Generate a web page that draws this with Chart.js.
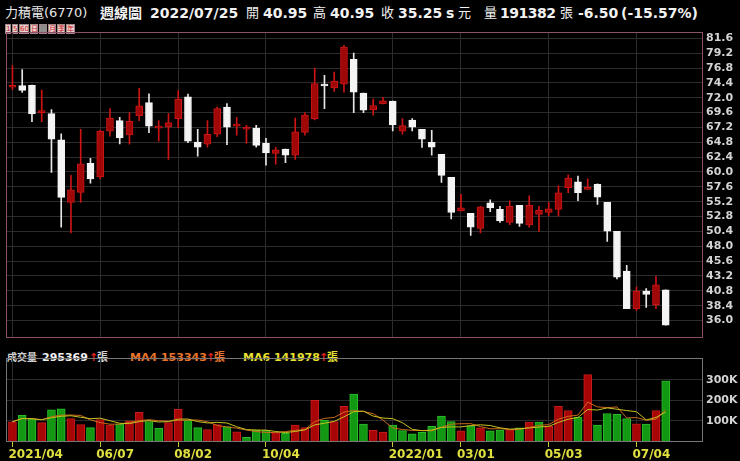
<!DOCTYPE html>
<html>
<head>
<meta charset="utf-8">
<script src="https://cdn.jsdelivr.net/npm/chart.js@4.4.0/dist/chart.umd.min.js"></script>
<style>
  body { margin: 0; background: #000; width: 740px; height: 461px; overflow: hidden; position: relative;
         font-family: "DejaVu Sans", "Noto Sans CJK TC", sans-serif; }
  .t { position: absolute; white-space: pre; line-height: 16px; }
  .h { top: 5px; font-size: 14px; font-weight: bold; color: #f2f2f2; }
  .n { font-weight: normal; }
  .c { font-size: 13px; }
  .v { top: 350px; font-size: 11px; font-weight: bold; }
  .vc { font-size: 10px; }
  #btns { position: absolute; left: 5px; top: 24px; display: flex; gap: 1px; }
  #btns span { display: block; height: 8px; font-size: 7px; line-height: 8px; text-align: center; overflow: hidden;
               background: #e4d4d4; color: #d01818; border: 1px solid #a08888; }
  #btns span.on { background: #9a9a9a; color: #808080; }
  canvas { position: absolute; left: 0; }
</style>
</head>
<body>
<div class="t n" style="left:5px;top:5px;font-size:13px;color:#e8e8e8">力積電(6770)</div>
<div class="t h" style="left:100px">週線圖</div>
<div class="t h" style="left:150px">2022/07/25</div>
<div class="t h n c" style="left:246px">開</div>
<div class="t h" style="left:263px">40.95</div>
<div class="t h n c" style="left:313px">高</div>
<div class="t h" style="left:330px">40.95</div>
<div class="t h n c" style="left:381px">收</div>
<div class="t h" style="left:398px">35.25</div>
<div class="t h" style="left:446px">s</div>
<div class="t h n c" style="left:458px">元</div>
<div class="t h n c" style="left:484px">量</div>
<div class="t h" style="left:500px;letter-spacing:-0.5px">191382</div>
<div class="t h n c" style="left:560px">張</div>
<div class="t h" style="left:578px">-6.50</div>
<div class="t h" style="left:621px">(-15.57%)</div>
<div id="btns">
  <span style="width:4px">1</span><span style="width:4px">5</span><span style="width:8px">60</span><span style="width:6px">日</span><span class="on" style="width:6px">週</span><span style="width:6px">月</span><span style="width:6px">季</span><span style="width:7px">年</span>
</div>

<div class="t v n vc" style="left:7px;color:#d0d0d0">成交量</div>
<div class="t v" style="left:42px;color:#f0f0f0">295369</div>
<div class="t v" style="left:89px;color:#e02020">↑</div>
<div class="t v n" style="left:97px;color:#d0d0d0">張</div>
<div class="t v" style="left:130px;color:#e8742a">MA4 153343</div>
<div class="t v" style="left:206px;color:#e02020">↑</div>
<div class="t v n" style="left:214px;color:#e8742a">張</div>
<div class="t v" style="left:243px;color:#e8e030">MA6 141978</div>
<div class="t v" style="left:319px;color:#e02020">↑</div>
<div class="t v n" style="left:327px;color:#e8e030">張</div>

<canvas id="price" width="740" height="348" style="top:0"></canvas>
<canvas id="vol" width="740" height="113" style="top:348px"></canvas>

<script>
// weekly bars, 2021/04/05 .. 2022/07/25
const opens  = [73.7, 73.95, 74.0, 69.6, 69.45, 65.2, 55.1, 56.7, 61.4, 59.2, 66.6, 68.3, 66.0, 69.1, 71.2, 67.1, 67.3, 68.6, 72.15, 64.85,
                64.5, 66.1, 70.5, 67.4, 66.9, 67.1, 64.65, 63.0, 63.7, 62.7, 66.4, 68.6, 74.2, 73.6, 74.2, 78.2, 72.75, 70.05, 71.0, 71.45,
                66.6, 68.4, 66.9, 64.8, 62.85, 59.15, 53.7, 53.3, 50.9, 55.0, 53.95, 51.85, 54.6, 51.45, 53.15, 53.45, 53.95, 57.45, 58.4, 57.2,
                58.0, 55.1, 50.4, 44.0, 37.9, 40.75, 38.55, 40.95];
const highs  = [77.2, 76.55, 74.05, 73.25, 70.1, 66.15, 59.45, 66.9, 62.2, 66.75, 70.25, 68.85, 69.6, 73.5, 72.65, 68.3, 69.45, 73.15, 72.6, 66.9,
                68.3, 70.5, 71.05, 68.85, 67.55, 67.55, 65.45, 64.0, 63.7, 68.7, 69.6, 76.8, 75.6, 76.15, 80.45, 79.2, 72.75, 71.8, 72.05, 71.45,
                68.65, 68.65, 66.9, 66.75, 62.85, 59.15, 56.4, 53.3, 54.4, 55.5, 54.45, 55.35, 54.6, 56.15, 54.45, 55.1, 57.75, 59.55, 59.35, 58.9,
                58.1, 55.1, 50.4, 44.9, 41.4, 41.15, 43.15, 40.95];
const lows   = [73.3, 72.85, 68.15, 68.15, 59.95, 51.1, 50.15, 55.1, 58.2, 58.9, 65.8, 64.55, 64.5, 68.3, 66.35, 65.0, 62.05, 67.15, 64.75, 62.55,
                64.0, 65.7, 64.4, 65.95, 64.65, 64.0, 61.1, 61.25, 61.5, 62.05, 65.95, 68.4, 70.25, 73.0, 72.9, 69.6, 69.6, 69.2, 71.0, 66.65,
                66.1, 66.65, 63.95, 62.7, 58.3, 52.4, 53.7, 49.75, 50.15, 53.6, 51.85, 51.5, 51.2, 51.1, 50.4, 52.9, 52.9, 56.65, 55.35, 57.2,
                54.75, 48.8, 42.7, 37.9, 37.65, 38.1, 37.9, 35.25];
const closes = [74.0, 73.2, 69.4, 69.9, 65.3, 55.9, 57.1, 61.3, 58.9, 66.6, 68.7, 65.5, 68.2, 70.7, 67.4, 67.25, 68.0, 71.8, 65.0, 64.0,
                66.1, 70.25, 67.25, 67.7, 67.0, 64.3, 63.1, 63.6, 62.7, 66.5, 69.2, 74.3, 73.9, 74.7, 80.2, 72.9, 70.0, 70.75, 71.5, 67.6,
                67.5, 67.25, 65.3, 64.0, 59.45, 53.45, 54.2, 51.1, 54.35, 54.2, 52.1, 54.45, 51.7, 54.6, 53.8, 54.05, 56.65, 59.0, 56.65, 57.45,
                55.95, 50.45, 43.0, 37.9, 40.75, 40.2, 41.75, 35.25];
const volumes = [94600, 126000, 108000, 90000, 153000, 158000, 110000, 81000, 66000, 105000, 78000, 83000, 99000, 141000, 96000, 63000, 90000, 156000, 101000, 66000,
                 56000, 81000, 71000, 45000, 18000, 53000, 53000, 41000, 38000, 78000, 66000, 200000, 101000, 96000, 171000, 230000, 83000, 53000, 44000, 78000,
                 51000, 35000, 42000, 72000, 122000, 95000, 50000, 74000, 65000, 50000, 54000, 56000, 65000, 93000, 93000, 72000, 170000, 150000, 117000, 326000,
                 78000, 135000, 131000, 110000, 85000, 83000, 150000, 295369];

const tickIndex  = [0, 9, 17, 26, 39, 46, 55, 64];
const tickLabels = ['2021/04', '06/07', '08/02', '10/04', '2022/01', '03/01', '05/03', '07/04'];
const priceTicks = [36.0, 38.4, 40.8, 43.2, 45.6, 48.0, 50.4, 52.8, 55.2, 57.6, 60.0, 62.4, 64.8, 67.2, 69.6, 72.0, 74.4, 76.8, 79.2, 81.6];
const volTicks   = [100000, 200000, 300000];

const X_MIN = -0.56, X_MAX = 70.72;
const GRID = '#2c2c2c';
const RED = '#a00808', RED_EDGE = '#cc1414';
const WHITE = '#f4f4f4';

Chart.defaults.font.family = '"DejaVu Sans", sans-serif';
Chart.defaults.animation = false;

const isUp = i => closes[i] >= opens[i];
const volUp = i => i === 0 ? isUp(0) : closes[i] >= closes[i - 1];

const movingAvg = n => volumes.map((v, i) => {
    const part = volumes.slice(Math.max(0, i - n + 1), i + 1);
    return { x: i, y: part.reduce((a, b) => a + b, 0) / part.length };
});

const frame = color => ({
    id: 'frame',
    afterDraw(chart) {
        const a = chart.chartArea, c = chart.ctx;
        c.save();
        c.strokeStyle = color;
        c.lineWidth = 1;
        c.strokeRect(Math.round(a.left) - 0.5, Math.round(a.top) - 0.5, Math.round(a.right - a.left) + 1, Math.round(a.bottom - a.top) + 1);
        c.restore();
    }
});

const xAxis = showLabels => ({
    type: 'linear', min: X_MIN, max: X_MAX, offset: false,
    afterBuildTicks: s => { s.ticks = tickIndex.map(v => ({ value: v })); },
    afterFit: s => { s.height = showLabels ? 20 : 0; },
    grid: { offset: false, color: GRID, drawTicks: showLabels, tickLength: 6, tickColor: '#c8c830' },
    border: { display: false },
    ticks: {
        display: showLabels, autoSkip: false, maxRotation: 0, align: 'start', labelOffset: -4, padding: 1,
        color: '#e0e040', font: { size: 12, weight: 'bold' },
        callback: (v, i) => tickLabels[i]
    }
});

const idx = opens.map((_, i) => i);

new Chart(document.getElementById('price'), {
    type: 'bar',
    data: {
        datasets: [
            {
                label: 'body',
                order: 1,
                data: idx.map(i => ({ x: i, y: [opens[i], closes[i]] })),
                barThickness: 7,
                minBarLength: 2,
                grouped: false,
                borderSkipped: false,
                borderWidth: 1,
                backgroundColor: c => isUp(c.dataIndex) ? RED : WHITE,
                borderColor: c => isUp(c.dataIndex) ? RED_EDGE : WHITE
            },
            {
                label: 'wick',
                order: 2,
                data: idx.map(i => ({ x: i, y: [lows[i], highs[i]] })),
                barThickness: 1,
                grouped: false,
                borderWidth: 0,
                backgroundColor: c => isUp(c.dataIndex) ? RED_EDGE : '#e6e6e6'
            }
        ]
    },
    options: {
        responsive: false,
        layout: { padding: { top: 33, left: 7, right: 0, bottom: 1 } },
        plugins: { legend: { display: false }, tooltip: { enabled: false } },
        scales: {
            x: xAxis(false),
            y: {
                position: 'right', min: 33.27, max: 82.46,
                afterBuildTicks: s => { s.ticks = priceTicks.map(v => ({ value: v })); },
                afterFit: s => { s.width = 38; },
                grid: { color: GRID, drawTicks: false },
                border: { display: false },
                ticks: { color: '#d4d4d4', padding: 4, font: { size: 11, weight: 'bold' }, callback: v => v.toFixed(1) }
            }
        }
    },
    plugins: [frame('#8c5068')]
});

new Chart(document.getElementById('vol'), {
    type: 'bar',
    data: {
        datasets: [
            {
                type: 'line', label: 'MA6', order: 1,
                data: movingAvg(6),
                borderColor: '#c8c020', borderWidth: 1, pointRadius: 0, tension: 0
            },
            {
                type: 'line', label: 'MA4', order: 2,
                data: movingAvg(4),
                borderColor: '#c86a1c', borderWidth: 1, pointRadius: 0, tension: 0
            },
            {
                label: 'volume', order: 3,
                data: idx.map(i => ({ x: i, y: volumes[i] })),
                barThickness: 8,
                borderWidth: 1,
                borderSkipped: 'bottom',
                backgroundColor: c => volUp(c.dataIndex) ? '#a80606' : '#129812',
                borderColor: c => volUp(c.dataIndex) ? '#c81c1c' : '#2cbc2c'
            }
        ]
    },
    options: {
        responsive: false,
        layout: { padding: { top: 1.5, left: 7, right: 0, bottom: 0 } },
        plugins: { legend: { display: false }, tooltip: { enabled: false } },
        scales: {
            x: xAxis(true),
            y: {
                position: 'right', min: 0, max: 405000,
                afterBuildTicks: s => { s.ticks = volTicks.map(v => ({ value: v })); },
                afterFit: s => { s.width = 38; },
                grid: { color: GRID, drawTicks: false },
                border: { display: false },
                ticks: { color: '#d4d4d4', padding: 4, font: { size: 11, weight: 'bold' }, callback: v => (v / 1000) + 'K' }
            }
        }
    },
    plugins: [frame('#767676')]
});
</script>
</body>
</html>
